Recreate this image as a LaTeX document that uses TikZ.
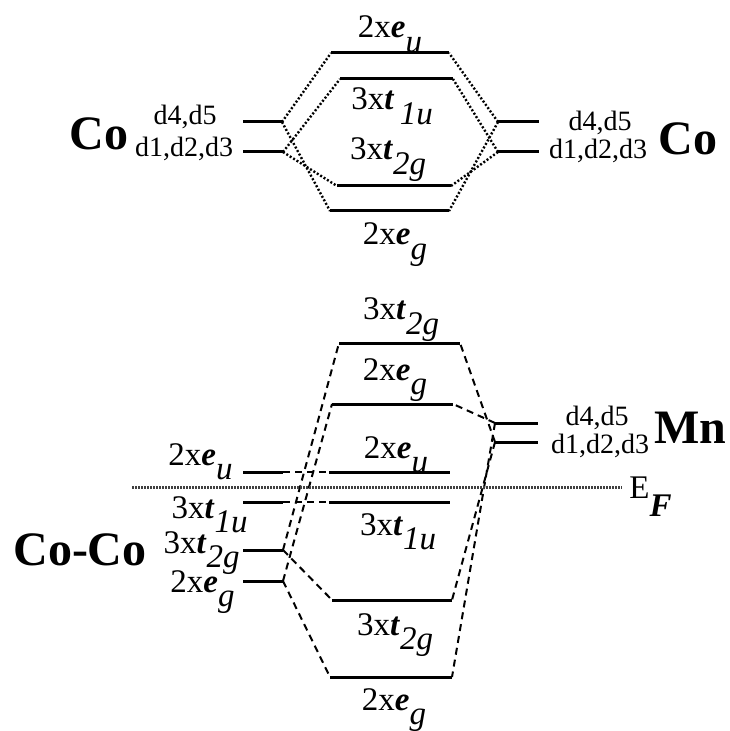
\documentclass[tikz,border=0pt]{standalone}
\usepackage{fontspec}
\setmainfont{Liberation Serif}
\usetikzlibrary{positioning}
\tikzset{lvl/.style = {line width = 1.5pt},
  mix/.style = {line width = 1.2pt, dash pattern = on 1pt off 1pt},
  bond/.style = {line width = 1pt, dash pattern = on 3.5pt off 2.5pt},
  fermi/.style = {line width = 1.5pt, dash pattern = on 1pt off 0.5pt, black!75},
  lab/.style = {font = \fontsize{14}{16}\selectfont, inner sep = 0, anchor = base},
  orb/.style = {font = \fontsize{16.5}{18}\selectfont, inner sep = 0, anchor = base},
  atom/.style = {font = \fontsize{24}{28}\selectfont\bfseries, inner sep = 0, anchor = base}}
\newcommand{\orb}[3]{#1\textbf{\textit{#2}}\raisebox{-0.45em}{\textit{#3}}}

\begin{document}
\begin{tikzpicture}[x = 0.5pt, y = -0.5pt]
    \useasboundingbox (0,0) rectangle (729,731);
    % levels: name / left end / right end / height
    \foreach \n/\xa/\xb/\y in {coL45/243/282/122, coL123/243/283/152,
        coR45/498/539/122, coR123/498/539/152,
        eu/331/449/53, tiu/340/453/79, ttg/337/451/186, eg/330/449/211,
        aTtg/339/460/343, aEg/332/453/404, mn45/495/538/423, mn123/495/538/442,
        nEu/329/450/472, nTiu/329/450/502, bTtg/332/452/600, bEg/330/452/677,
        ccEu/243/283/472, ccTiu/243/283/502, ccTtg/243/283/550, ccEg/243/283/581} {
        \draw[lvl] (\xa,\y) coordinate (\n-l) -- (\xb,\y) coordinate (\n-r);
    }
    % Co -- Co mixing
    \draw[mix] (coL45-r) -- (eu-l);
    \draw[mix] (coL45-r) -- (eg-l);
    \draw[mix] (coL123-r) -- (tiu-l);
    \draw[mix] (coL123-r) -- (ttg-l);
    \draw[mix] (coR45-l) -- (eu-r);
    \draw[mix] (coR45-l) -- (eg-r);
    \draw[mix] (coR123-l) -- (tiu-r);
    \draw[mix] (coR123-l) -- (ttg-r);
    % Co-Co -- Mn bonding
    \draw[bond] (ccEu-r) -- (nEu-l);
    \draw[bond] (ccTiu-r) -- (nTiu-l);
    \draw[bond] (ccTtg-r) -- (aTtg-l);
    \draw[bond] (ccTtg-r) -- (bTtg-l);
    \draw[bond] (ccEg-r) -- (aEg-l);
    \draw[bond] (ccEg-r) -- (bEg-l);
    \draw[bond] (mn123-l) -- (aTtg-r);
    \draw[bond] (mn123-l) -- (bTtg-r);
    \draw[bond] (mn45-l) -- (aEg-r);
    \draw[bond] (mn45-l) -- (bEg-r);
    \coordinate (fl) at (132,487);
    \coordinate (fr) at (622,487);
    \draw[fermi] (fl) -- (fr);
    % labels
    \node[atom] (coL) at (99,150) {Co};
    \node[atom] (coR) at (688,155) {Co};
    \node[atom] (mn) at (690,443) {Mn};
    \node[atom] (coco) at (80,565) {Co-Co};
    \node[lab] (dL45) at (185,125) {d4,d5};
    \node[lab] (dL123) at (184,157) {d1,d2,d3};
    \node[lab] (dR45) at (600,131) {d4,d5};
    \node[lab] (dR123) at (598,159) {d1,d2,d3};
    \node[lab] (dM45) at (597,425) {d4,d5};
    \node[lab] (dM123) at (600,453) {d1,d2,d3};
    \node[orb] (leu) at (390,38) {\orb{2x}{e}{u}};
    \node[orb] (ltiu) at (392,110) {\orb{3x}{t}{\,1u}};
    \node[orb] (lttg) at (388,160) {\orb{3x}{t}{2g}};
    \node[orb] (leg) at (395,245) {\orb{2x}{e}{g}};
    \node[orb] (laTtg) at (401,320) {\orb{3x}{t}{2g}};
    \node[orb] (laEg) at (395,380) {\orb{2x}{e}{g}};
    \node[orb] (lnEu) at (396,458) {\orb{2x}{e}{u}};
    \node[orb] (lnTiu) at (398,535) {\orb{3x}{t}{1u}};
    \node[orb] (lbTtg) at (395,635) {\orb{3x}{t}{2g}};
    \node[orb] (lbEg) at (394,710) {\orb{2x}{e}{g}};
    \node[orb, anchor = base east] (lccEu) at (233,465) {\orb{2x}{e}{u}};
    \node[orb, anchor = base east] (lccTiu) at (248,518) {\orb{3x}{t}{1u}};
    \node[orb, anchor = base east] (lccTtg) at (240,553) {\orb{3x}{t}{2g}};
    \node[orb, anchor = base east] (lccEg) at (235,592) {\orb{2x}{e}{g}};
    \node[orb, anchor = base west] (ef) at (629,498) {E\raisebox{-0.55em}{\textbf{\textit{F}}}};
\end{tikzpicture}
\end{document}
